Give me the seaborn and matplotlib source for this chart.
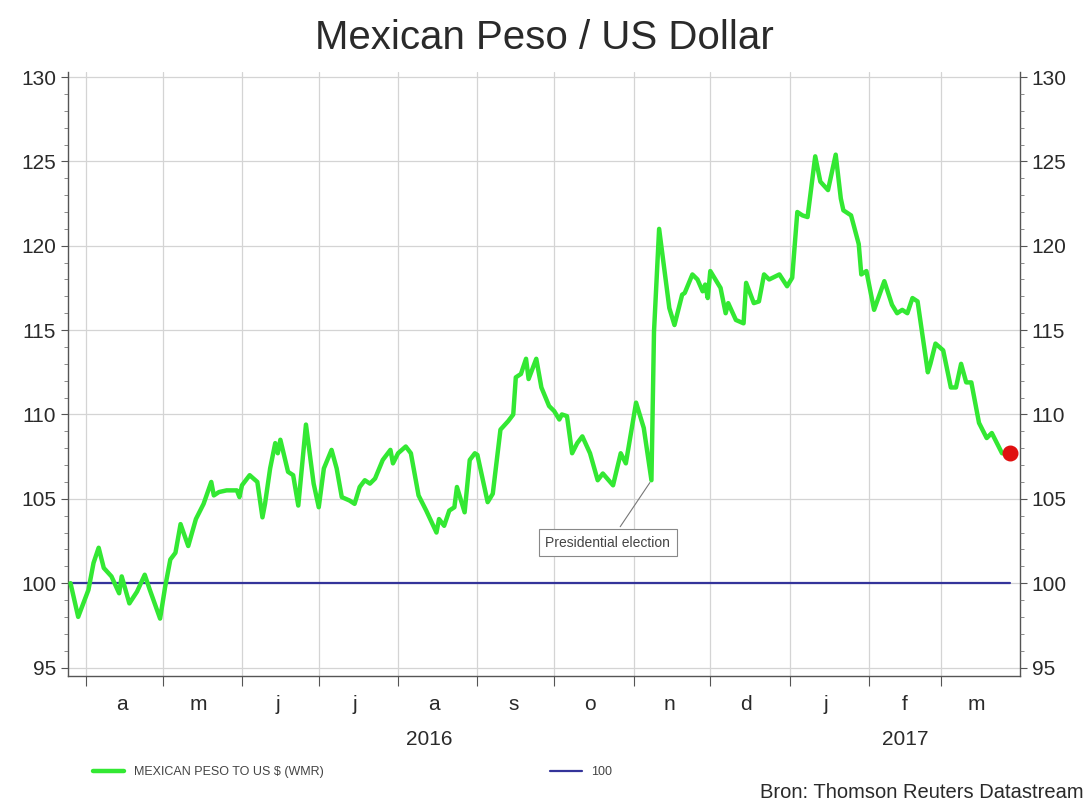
import numpy as np
import pandas as pd
import matplotlib.pyplot as plt
import matplotlib.transforms as mtransforms
from matplotlib.lines import Line2D
import seaborn as sns

# Mexican peso per US dollar, indexed
dates = [
    "2016-03-26", "2016-03-29", "2016-04-02", "2016-04-04", "2016-04-06", "2016-04-08", "2016-04-11",
    "2016-04-14", "2016-04-15", "2016-04-18", "2016-04-21", "2016-04-24", "2016-04-26", "2016-04-30",
    "2016-05-02", "2016-05-04", "2016-05-06", "2016-05-08", "2016-05-11", "2016-05-14", "2016-05-17",
    "2016-05-20", "2016-05-21", "2016-05-23", "2016-05-26", "2016-05-30", "2016-05-31",
    "2016-06-01", "2016-06-04", "2016-06-07", "2016-06-09", "2016-06-10", "2016-06-12", "2016-06-14",
    "2016-06-15", "2016-06-16", "2016-06-19", "2016-06-21", "2016-06-23", "2016-06-26", "2016-06-29",
    "2016-07-01", "2016-07-03", "2016-07-06", "2016-07-08", "2016-07-10", "2016-07-13", "2016-07-15",
    "2016-07-17", "2016-07-19", "2016-07-21", "2016-07-23", "2016-07-26", "2016-07-29", "2016-07-30",
    "2016-08-01", "2016-08-04", "2016-08-06", "2016-08-09", "2016-08-12", "2016-08-16", "2016-08-17",
    "2016-08-19", "2016-08-21", "2016-08-23", "2016-08-24", "2016-08-27", "2016-08-29", "2016-08-31",
    "2016-09-01", "2016-09-05", "2016-09-07", "2016-09-10", "2016-09-13", "2016-09-15", "2016-09-16",
    "2016-09-18", "2016-09-20", "2016-09-21", "2016-09-24", "2016-09-26", "2016-09-29",
    "2016-10-01", "2016-10-03", "2016-10-04", "2016-10-06", "2016-10-08", "2016-10-10", "2016-10-12",
    "2016-10-15", "2016-10-18", "2016-10-20", "2016-10-24", "2016-10-27", "2016-10-29",
    "2016-11-02", "2016-11-05", "2016-11-08", "2016-11-09", "2016-11-10", "2016-11-11", "2016-11-15",
    "2016-11-17", "2016-11-20", "2016-11-21", "2016-11-24", "2016-11-26", "2016-11-28", "2016-11-29",
    "2016-11-30",
    "2016-12-01", "2016-12-05", "2016-12-07", "2016-12-08", "2016-12-11", "2016-12-14", "2016-12-15",
    "2016-12-18", "2016-12-20", "2016-12-22", "2016-12-24", "2016-12-28", "2016-12-31",
    "2017-01-02", "2017-01-04", "2017-01-06", "2017-01-08", "2017-01-11", "2017-01-13", "2017-01-16",
    "2017-01-19", "2017-01-21", "2017-01-22", "2017-01-25", "2017-01-28", "2017-01-29", "2017-01-31",
    "2017-02-03", "2017-02-07", "2017-02-10", "2017-02-12", "2017-02-14", "2017-02-16", "2017-02-18",
    "2017-02-20", "2017-02-24", "2017-02-25", "2017-02-27",
    "2017-03-02", "2017-03-05", "2017-03-07", "2017-03-09", "2017-03-11", "2017-03-13", "2017-03-16",
    "2017-03-19", "2017-03-21", "2017-03-25", "2017-03-28",
]
peso = [
    100.0, 98.0, 99.6, 101.2, 102.1, 100.9, 100.4, 99.4, 100.4, 98.8, 99.5, 100.5, 99.6, 97.9,
    99.8, 101.4, 101.8, 103.5, 102.2, 103.8, 104.7, 106.0, 105.2, 105.4, 105.5, 105.5, 105.1,
    105.8, 106.4, 106.0, 103.9, 104.7, 106.8, 108.3, 107.7, 108.5, 106.6, 106.4, 104.6, 109.4, 105.9,
    104.5, 106.8, 107.9, 106.8, 105.1, 104.9, 104.7, 105.7, 106.1, 105.9, 106.2, 107.3, 107.9, 107.1,
    107.7, 108.1, 107.7, 105.2, 104.3, 103.0, 103.8, 103.4, 104.3, 104.5, 105.7, 104.2, 107.3, 107.7,
    107.6, 104.8, 105.3, 109.1, 109.6, 110.0, 112.2, 112.4, 113.3, 112.1, 113.3, 111.6, 110.5,
    110.2, 109.7, 110.0, 109.9, 107.7, 108.3, 108.7, 107.7, 106.1, 106.5, 105.8, 107.7, 107.1,
    110.7, 109.2, 106.1, 114.9, 117.9, 121.0, 116.3, 115.3, 117.1, 117.2, 118.3, 118.0, 117.3, 117.7,
    116.9,
    118.5, 117.5, 116.0, 116.6, 115.6, 115.4, 117.8, 116.6, 116.7, 118.3, 118.0, 118.3, 117.6,
    118.1, 122.0, 121.8, 121.7, 125.3, 123.8, 123.3, 125.4, 122.8, 122.1, 121.8, 120.1, 118.3, 118.5,
    116.2, 117.9, 116.5, 116.0, 116.2, 116.0, 116.9, 116.7, 112.5, 113.0, 114.2,
    113.8, 111.6, 111.6, 113.0, 111.9, 111.9, 109.5, 108.6, 108.9, 107.7, 107.7,
]
base_level = 100
month_letters = ['a', 'm', 'j', 'j', 'a', 's', 'o', 'n', 'd', 'j', 'f', 'm']
year_labels = ['2016', '2017']
election_date = "2016-11-08"

df = pd.DataFrame({'date': pd.to_datetime(dates), 'peso': peso})
df['base'] = base_level

sns.set_style('white')
plt.rcParams['font.family'] = ['Liberation Sans', 'DejaVu Sans']

green = '#33e833'
navy = '#34349a'
grid_col = '#d4d4d4'
txt = '#2a2a2a'

fig = plt.figure(figsize=(10.89, 8.07), dpi=100)
ax = fig.add_axes([0.0624, 0.1624, 0.8742, 0.7484])

sns.lineplot(data=df, x='date', y='base', color=navy, lw=1.6, ax=ax, zorder=3)
sns.lineplot(data=df, x='date', y='peso', color=green, lw=3.2, ax=ax, zorder=4)
ax.scatter(df['date'].iloc[-1], df['peso'].iloc[-1], s=110, color='#e01010', zorder=5)

x_start = pd.Timestamp('2016-03-25')
x_end = pd.Timestamp('2017-04-01')
ax.set_xlim(x_start, x_end)
ax.set_ylim(94.5, 130.3)

# month boundaries as major ticks / grid, letters at mid-month
month_starts = pd.date_range('2016-04-01', '2017-03-01', freq='MS')
mid_months = month_starts + pd.Timedelta(days=14)
ax.set_xticks(month_starts)
ax.set_xticklabels([])
ax.set_xticks(mid_months, minor=True)
ax.set_xticklabels(month_letters, minor=True, fontsize=15, color=txt)
ax.tick_params(axis='x', which='major', direction='out', length=7, color='#555555', bottom=True)
ax.tick_params(axis='x', which='minor', length=0, pad=14)

yticks = np.arange(95, 131, 5)
ax.set_yticks(yticks)
ax.set_yticks(np.arange(95, 131, 1), minor=True)
ax.tick_params(axis='y', which='major', direction='out', length=5, labelsize=15,
               labelcolor=txt, color='#555555', left=True)
ax.tick_params(axis='y', which='minor', direction='out', length=3, color='#777777', left=True)

ax.grid(True, which='major', color=grid_col, lw=0.9)
ax.set_xlabel('')
ax.set_ylabel('')
for s in ax.spines.values():
    s.set_color('#555555')
    s.set_linewidth(1.0)
ax.spines['top'].set_visible(False)

ax2 = ax.twinx()
ax2.set_ylim(ax.get_ylim())
ax2.set_yticks(yticks)
ax2.set_yticks(np.arange(95, 131, 1), minor=True)
ax2.tick_params(axis='y', which='major', direction='out', length=5, labelsize=15,
                labelcolor=txt, color='#555555', right=True)
ax2.tick_params(axis='y', which='minor', direction='out', length=3, color='#777777', right=True)
for s in ax2.spines.values():
    s.set_visible(False)

# year labels centred under their part of the axis
trans = mtransforms.blended_transform_factory(ax.transData, ax.transAxes)
year_spans = [(x_start, pd.Timestamp('2017-01-01')), (pd.Timestamp('2017-01-01'), x_end)]
for lab, (a, b) in zip(year_labels, year_spans):
    ax.text(a + (b - a) / 2, -0.106, lab, transform=trans, ha='center', va='center',
            fontsize=15, color=txt)

# annotation
ax.annotate('Presidential election',
            xy=(pd.Timestamp(election_date), df.loc[df['date'] == election_date, 'peso'].iloc[0]),
            xytext=(pd.Timestamp('2016-10-22'), 102.4),
            ha='center', va='center', fontsize=10, color='#444444',
            bbox=dict(boxstyle='square,pad=0.45', fc='white', ec='#888888', lw=0.8),
            arrowprops=dict(arrowstyle='-', color='#777777', lw=0.8, relpos=(0.55, 1.0)),
            zorder=6)

fig.text(0.5, 1 - 38 / 807, 'Mexican Peso / US Dollar', ha='center', va='center',
         fontsize=29, color=txt)

leg1 = fig.legend(handles=[Line2D([], [], color=green, lw=3.2)],
                  labels=['MEXICAN PESO TO US $ (WMR)'], loc='center left',
                  bbox_to_anchor=(0.075, 1 - 772 / 807), frameon=False, fontsize=9,
                  handlelength=2.5, labelcolor='#444444')
leg2 = fig.legend(handles=[Line2D([], [], color=navy, lw=1.6)],
                  labels=['100'], loc='center left',
                  bbox_to_anchor=(0.495, 1 - 772 / 807), frameon=False, fontsize=9,
                  handlelength=2.5, labelcolor='#444444')

fig.text(0.995, 1 - 793 / 807, 'Bron: Thomson Reuters Datastream', ha='right', va='center',
         fontsize=14.5, color=txt)

fig.savefig('out.png', dpi=100)
